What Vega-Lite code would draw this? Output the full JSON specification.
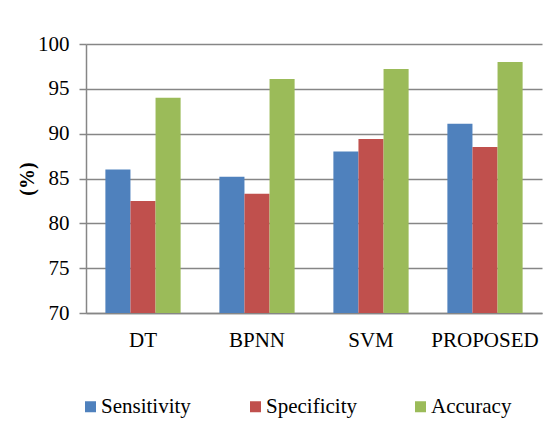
{
  "$schema": "https://vega.github.io/schema/vega-lite/v6.json",
  "autosize": "none",
  "width": 456,
  "height": 269,
  "padding": {"left": 86, "top": 44, "right": 17, "bottom": 119},
  "background": "white",
  "data": {
    "values": [
      {"method": "DT", "metric": "Sensitivity", "value": 86.0},
      {"method": "DT", "metric": "Specificity", "value": 82.5},
      {"method": "DT", "metric": "Accuracy", "value": 94.0},
      {"method": "BPNN", "metric": "Sensitivity", "value": 85.2},
      {"method": "BPNN", "metric": "Specificity", "value": 83.3},
      {"method": "BPNN", "metric": "Accuracy", "value": 96.1},
      {"method": "SVM", "metric": "Sensitivity", "value": 88.0},
      {"method": "SVM", "metric": "Specificity", "value": 89.4},
      {"method": "SVM", "metric": "Accuracy", "value": 97.2},
      {"method": "PROPOSED", "metric": "Sensitivity", "value": 91.1},
      {"method": "PROPOSED", "metric": "Specificity", "value": 88.5},
      {"method": "PROPOSED", "metric": "Accuracy", "value": 98.0}
    ]
  },
  "mark": {"type": "bar", "clip": true},
  "encoding": {
    "x": {
      "field": "method",
      "type": "nominal",
      "sort": ["DT", "BPNN", "SVM", "PROPOSED"],
      "scale": {"paddingInner": 0.34, "paddingOuter": 0.17},
      "axis": {
        "title": null,
        "labelAngle": 0,
        "labelFont": "Liberation Serif",
        "labelFontSize": 21,
        "labelColor": "black",
        "labelPadding": 16,
        "ticks": false,
        "domainColor": "#868686",
        "domainWidth": 1.5,
        "grid": false
      }
    },
    "xOffset": {"field": "metric", "sort": ["Sensitivity", "Specificity", "Accuracy"]},
    "y": {
      "field": "value",
      "type": "quantitative",
      "scale": {"domain": [70, 100], "nice": false, "zero": false},
      "axis": {
        "title": "(%)",
        "titleFont": "Liberation Serif",
        "titleFontSize": 20,
        "titleFontWeight": "bold",
        "titleColor": "black",
        "titlePadding": 0,
        "values": [70, 75, 80, 85, 90, 95, 100],
        "labelFont": "Liberation Serif",
        "labelFontSize": 21,
        "labelColor": "black",
        "labelPadding": 10,
        "tickSize": 7,
        "tickColor": "#868686",
        "tickWidth": 1.5,
        "domainColor": "#868686",
        "domainWidth": 1.5,
        "gridColor": "#868686",
        "gridWidth": 1.5
      }
    },
    "color": {
      "field": "metric",
      "type": "nominal",
      "sort": ["Sensitivity", "Specificity", "Accuracy"],
      "scale": {"domain": ["Sensitivity", "Specificity", "Accuracy"], "range": ["#4F81BD", "#C0504D", "#9BBB59"]},
      "legend": {
        "title": null,
        "orient": "none",
        "legendX": -6,
        "legendY": 352,
        "padding": 0,
        "direction": "horizontal",
        "columns": 3,
        "gridAlign": "all",
        "columnPadding": 53,
        "symbolType": "square",
        "symbolSize": 121,
        "symbolStrokeWidth": 0,
        "labelFont": "Liberation Serif",
        "labelFontSize": 21,
        "labelColor": "black",
        "labelOffset": 0
      }
    }
  },
  "config": {"view": {"stroke": null}}
}
